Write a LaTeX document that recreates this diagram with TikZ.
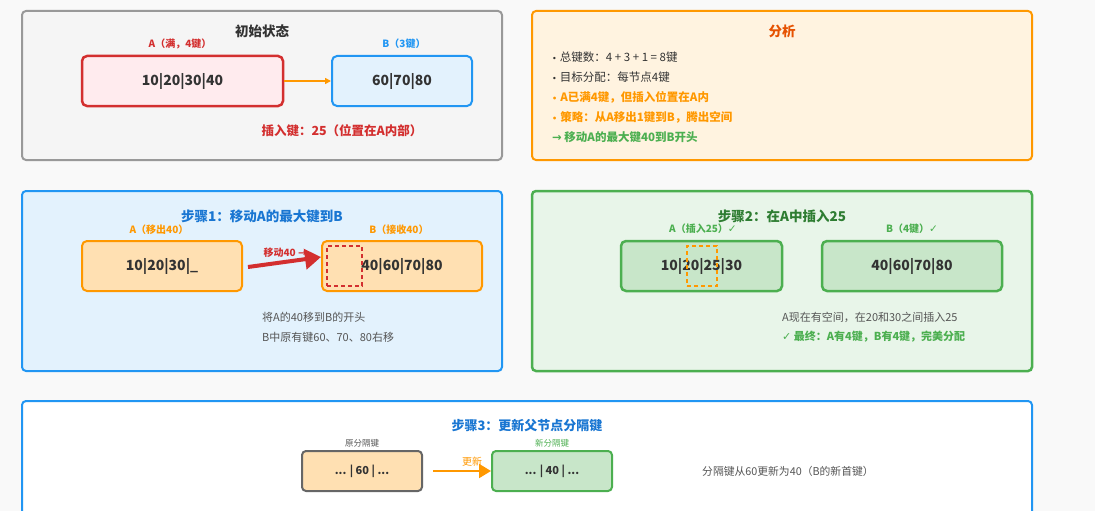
\documentclass[tikz,border=0pt]{standalone}
\usepackage{fontspec}
\setmainfont{Noto Sans CJK SC}
\newfontfamily\symfont{DejaVu Sans}
\usetikzlibrary{arrows.meta,calc}
\definecolor{bgc}{HTML}{F9F9F9}
\definecolor{txt}{HTML}{333333}
\definecolor{gtxt}{HTML}{555555}
\definecolor{redc}{HTML}{D32F2F}
\definecolor{redf}{HTML}{FFEBEE}
\definecolor{bluec}{HTML}{2196F3}
\definecolor{bluef}{HTML}{E3F2FD}
\definecolor{bluet}{HTML}{1976D2}
\definecolor{orc}{HTML}{FF9800}
\definecolor{orf}{HTML}{FFF3E0}
\definecolor{ort}{HTML}{E65100}
\definecolor{orbox}{HTML}{FFE0B2}
\definecolor{grc}{HTML}{4CAF50}
\definecolor{grf}{HTML}{E8F5E9}
\definecolor{grbox}{HTML}{C8E6C9}
\definecolor{grt}{HTML}{2E7D32}
\definecolor{grayc}{HTML}{999999}
\definecolor{grayf}{HTML}{F5F5F5}
\definecolor{darkg}{HTML}{666666}
\newcommand{\bulletmark}{{\symfont\fontsize{8}{9}\selectfont •}\hspace{3pt}}
\tikzset{
  panel/.style={draw, line width=2pt, rounded corners=4pt, inner sep=0pt},
  keybox/.style={draw, line width=2.5pt, rounded corners=5pt, inner sep=0pt, minimum height=50pt, font=\fontsize{14}{16}\selectfont\bfseries, text=txt},
  smallbox/.style={draw, line width=2pt, rounded corners=4pt, inner sep=0pt, minimum width=120pt, minimum height=40pt, font=\fontsize{11}{13}\selectfont\bfseries, text=txt},
  ptitle/.style={font=\fontsize{13.5}{15}\selectfont\bfseries, inner sep=0pt},
  lbl/.style={font=\fontsize{10}{11}\selectfont\bfseries, inner sep=0pt},
  note/.style={font=\fontsize{11}{12}\selectfont, inner sep=0pt, anchor=west, text=gtxt},
  bul/.style={font=\fontsize{11.5}{13}\selectfont, inner sep=0pt, anchor=west},
  bulb/.style={font=\fontsize{11.5}{13}\selectfont\bfseries, inner sep=0pt, anchor=west},
}
\begin{document}
\begin{tikzpicture}[x=1pt,y=-1pt]
\useasboundingbox (0,0) rectangle (1095,511);
\fill[bgc] (0,0) rectangle (1095,511);
\clip (0,0) rectangle (1095,511);

% ---------- Panel 1: initial state
\node[panel, draw=grayc, fill=grayf, minimum width=480pt, minimum height=149pt] (p1) at (262,85.5) {};
\node[ptitle, text=txt] (t1) at (262,31) {初始状态};
\node[lbl, text=redc] (la) at (180,44) {A（满，4键）};
\node[keybox, draw=redc, fill=redf, minimum width=201pt] (a0) at (182.5,81) {10|20|30|40};
\node[lbl, text=bluec] (lb) at (404,44) {B（3键）};
\node[keybox, draw=bluec, fill=bluef, line width=2pt, minimum width=140pt] (b0) at (402,81) {60|70|80};
\draw[orc, line width=1.5pt, -{Triangle[length=6pt,width=6pt]}] (a0.east) -- (b0.west);
\node[font=\fontsize{12.5}{14}\selectfont\bfseries, text=redc, inner sep=0pt] (ins) at (342,131) {插入键：25（位置在A内部）};

% ---------- Panel 2: analysis
\node[panel, draw=orc, fill=orf, minimum width=500pt, minimum height=149pt] (p2) at (782,85.5) {};
\node[ptitle, text=ort] (t2) at (782,31) {分析};
\node[bul, text=txt] (b1) at (552,57) {\bulletmark 总键数：4 + 3 + 1 = 8键};
\node[bul, text=txt] (b2) at (552,77) {\bulletmark 目标分配：每节点4键};
\node[bulb, text=orc] (b3) at (552,97) {\bulletmark A已满4键，但插入位置在A内};
\node[bulb, text=orc] (b4) at (552,117) {\bulletmark 策略：从A移出1键到B，腾出空间};
\node[bulb, text=grc] (b5) at (552,137) {{\symfont →} 移动A的最大键40到B开头};

% ---------- Panel 3: step 1
\node[panel, draw=bluec, fill=bluef, minimum width=480pt, minimum height=180pt] (p3) at (262,281) {};
\node[ptitle, text=bluet] (t3) at (262,216) {步骤1：移动A的最大键到B};
\node[lbl, text=orc] (la1) at (159,229.5) {A（移出40）};
\node[keybox, draw=orc, fill=orbox, line width=2pt, minimum width=160pt] (a1) at (162,266) {10|20|30|\_};
\node[lbl, text=orc] (lb1) at (399,229.5) {B（接收40）};
\node[keybox, draw=orc, fill=orbox, line width=2pt, minimum width=160pt] (b1box) at (402,266) {};
\node[font=\fontsize{14}{16}\selectfont\bfseries, text=txt, inner sep=0pt] (b1t) at (402,266) {40|60|70|80};
\node[draw=redc, line width=1.5pt, dash pattern=on 4pt off 3pt, minimum width=35pt, minimum height=40pt, inner sep=0pt] (slot) at (344.5,266) {};
\node[lbl, text=redc] (mv) at (285,252.5) {移动40 {\symfont →}};
\draw[redc, line width=4pt, -{Triangle[length=16pt,width=20pt]}] ($(a1.east)+(5,1)$) -- ($(b1box.west)+(0,-9)$);
\node[note] (n1) at (262,317) {将A的40移到B的开头};
\node[note] (n2) at (262,337) {B中原有键60、70、80右移};

% ---------- Panel 4: step 2
\node[panel, draw=grc, fill=grf, line width=2.5pt, minimum width=500pt, minimum height=180pt] (p4) at (782,281) {};
\node[ptitle, text=grt] (t4) at (782,216) {步骤2：在A中插入25};
\node[lbl, text=grc] (la2) at (703,229) {A（插入25）{\symfont\fontsize{10.5}{11}\selectfont\mdseries ✓}};
\node[keybox, draw=grc, fill=grbox, minimum width=161pt] (a2) at (701.5,266) {10|20|25|30};
\node[draw=orc, line width=1.5pt, dash pattern=on 4pt off 3pt, minimum width=30pt, minimum height=40pt, inner sep=0pt] (slot2) at (702,266) {};
\node[lbl, text=grc] (lb2) at (912,229) {B（4键）{\symfont\fontsize{10.5}{11}\selectfont\mdseries ✓}};
\node[keybox, draw=grc, fill=grbox, minimum width=180pt] (b2box) at (912,266) {40|60|70|80};
\node[note] (n3) at (782,317) {A现在有空间，在20和30之间插入25};
\node[note, text=grc, font=\fontsize{11}{12}\selectfont\bfseries] (n4) at (782,337) {{\symfont\mdseries ✓} 最终：A有4键，B有4键，完美分配};

% ---------- Panel 5: step 3
\node[panel, draw=bluec, fill=white, minimum width=1010pt, minimum height=160pt] (p5) at (527,481) {};
\node[font=\fontsize{13}{14}\selectfont\bfseries, text=bluet, inner sep=0pt] (t5) at (527,426) {步骤3：更新父节点分隔键};
\node[font=\fontsize{8.5}{9}\selectfont, text=gtxt, inner sep=0pt] (lo) at (362,443) {原分隔键};
\node[smallbox, draw=darkg, fill=orbox] (old) at (362,471) {... | 60 | ...};
\node[font=\fontsize{8.5}{9}\selectfont, text=grc, inner sep=0pt] (ln) at (552,443) {新分隔键};
\node[smallbox, draw=grc, fill=grbox] (new) at (552,471) {... | 40 | ...};
\draw[orc, line width=2pt, -{Triangle[length=12pt,width=14pt]}] ($(old.east)+(10,0)$) -- (new.west);
\node[font=\fontsize{10}{11}\selectfont, text=orc, inner sep=0pt] (up) at (472,462) {更新};
\node[note, font=\fontsize{10.8}{12}\selectfont] (n5) at (702,471) {分隔键从60更新为40（B的新首键）};
\end{tikzpicture}
\end{document}
